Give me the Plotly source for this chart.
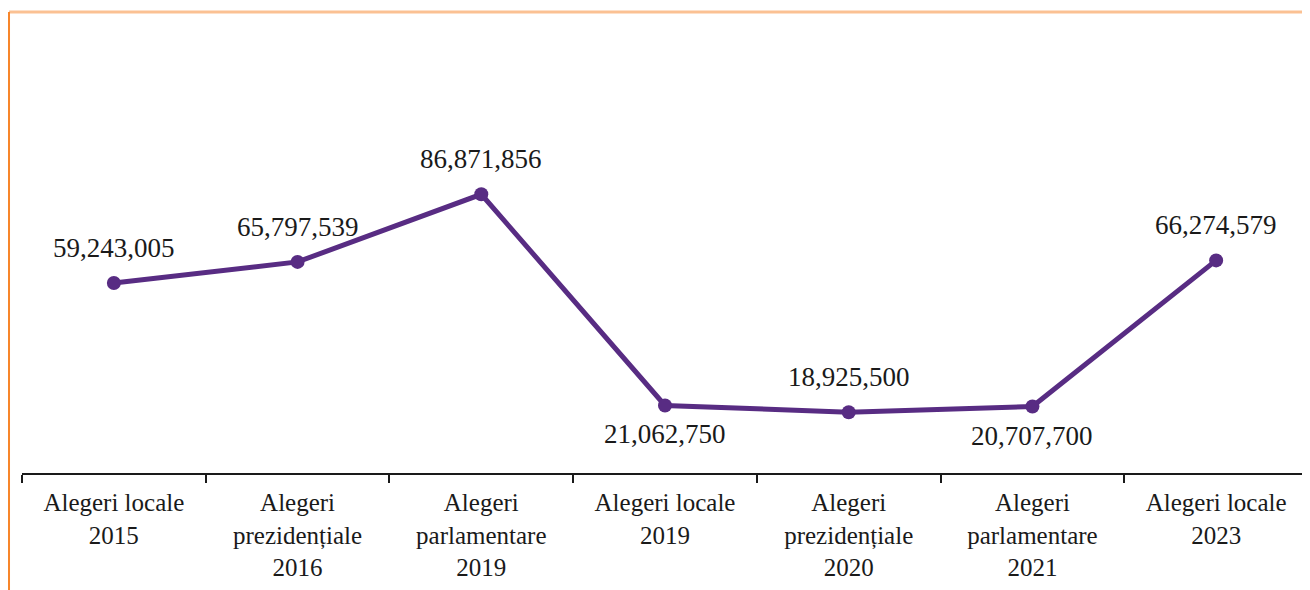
import plotly.graph_objects as go

categories = [
    "Alegeri locale<br>2015",
    "Alegeri<br>prezidențiale<br>2016",
    "Alegeri<br>parlamentare<br>2019",
    "Alegeri locale<br>2019",
    "Alegeri<br>prezidențiale<br>2020",
    "Alegeri<br>parlamentare<br>2021",
    "Alegeri locale<br>2023",
]
values = [59243005, 65797539, 86871856, 21062750, 18925500, 20707700, 66274579]
label_side = ["above", "above", "above", "below", "above", "below", "above"]

PURPLE = "#582C83"
FONT = "Liberation Serif"
TEXT = "#1a1a1a"

fig = go.Figure()
fig.add_trace(go.Scatter(
    x=categories, y=values, mode="lines+markers",
    line=dict(color=PURPLE, width=5),
    marker=dict(color=PURPLE, size=14),
    hoverinfo="skip", showlegend=False,
))

for c, v, s in zip(categories, values, label_side):
    fig.add_annotation(
        x=c, y=v, text=f"{v:,}", showarrow=False,
        yshift=35 if s == "above" else -29,
        font=dict(family=FONT, size=27, color=TEXT),
        xanchor="center", yanchor="middle",
    )

# orange partial frame
fig.add_shape(type="line", xref="paper", yref="paper",
              x0=-0.0101, x1=1.02, y0=1.0177, y1=1.0177,
              line=dict(color="#FBC193", width=3))
fig.add_shape(type="line", xref="paper", yref="paper",
              x0=-0.0101, x1=-0.0101, y0=1.0177, y1=-0.3,
              line=dict(color="#F7862A", width=2))

fig.update_layout(
    width=1310, height=590,
    margin=dict(l=14, r=10, t=12, b=125),
    paper_bgcolor="white", plot_bgcolor="white",
    font=dict(family=FONT, size=25, color=TEXT),
    xaxis=dict(
        type="category", showgrid=False, zeroline=False,
        showline=True, linecolor=TEXT, linewidth=2,
        ticks="outside", tickson="boundaries", ticklen=8,
        tickwidth=2, tickcolor=TEXT,
        tickfont=dict(family=FONT, size=25, color=TEXT),
        ticklabelstandoff=6,
        range=[-0.5, 6.5],
    ),
    yaxis=dict(
        range=[0, 141.2e6], visible=False, showgrid=False, zeroline=False,
    ),
)

fig.write_html("out.html")
